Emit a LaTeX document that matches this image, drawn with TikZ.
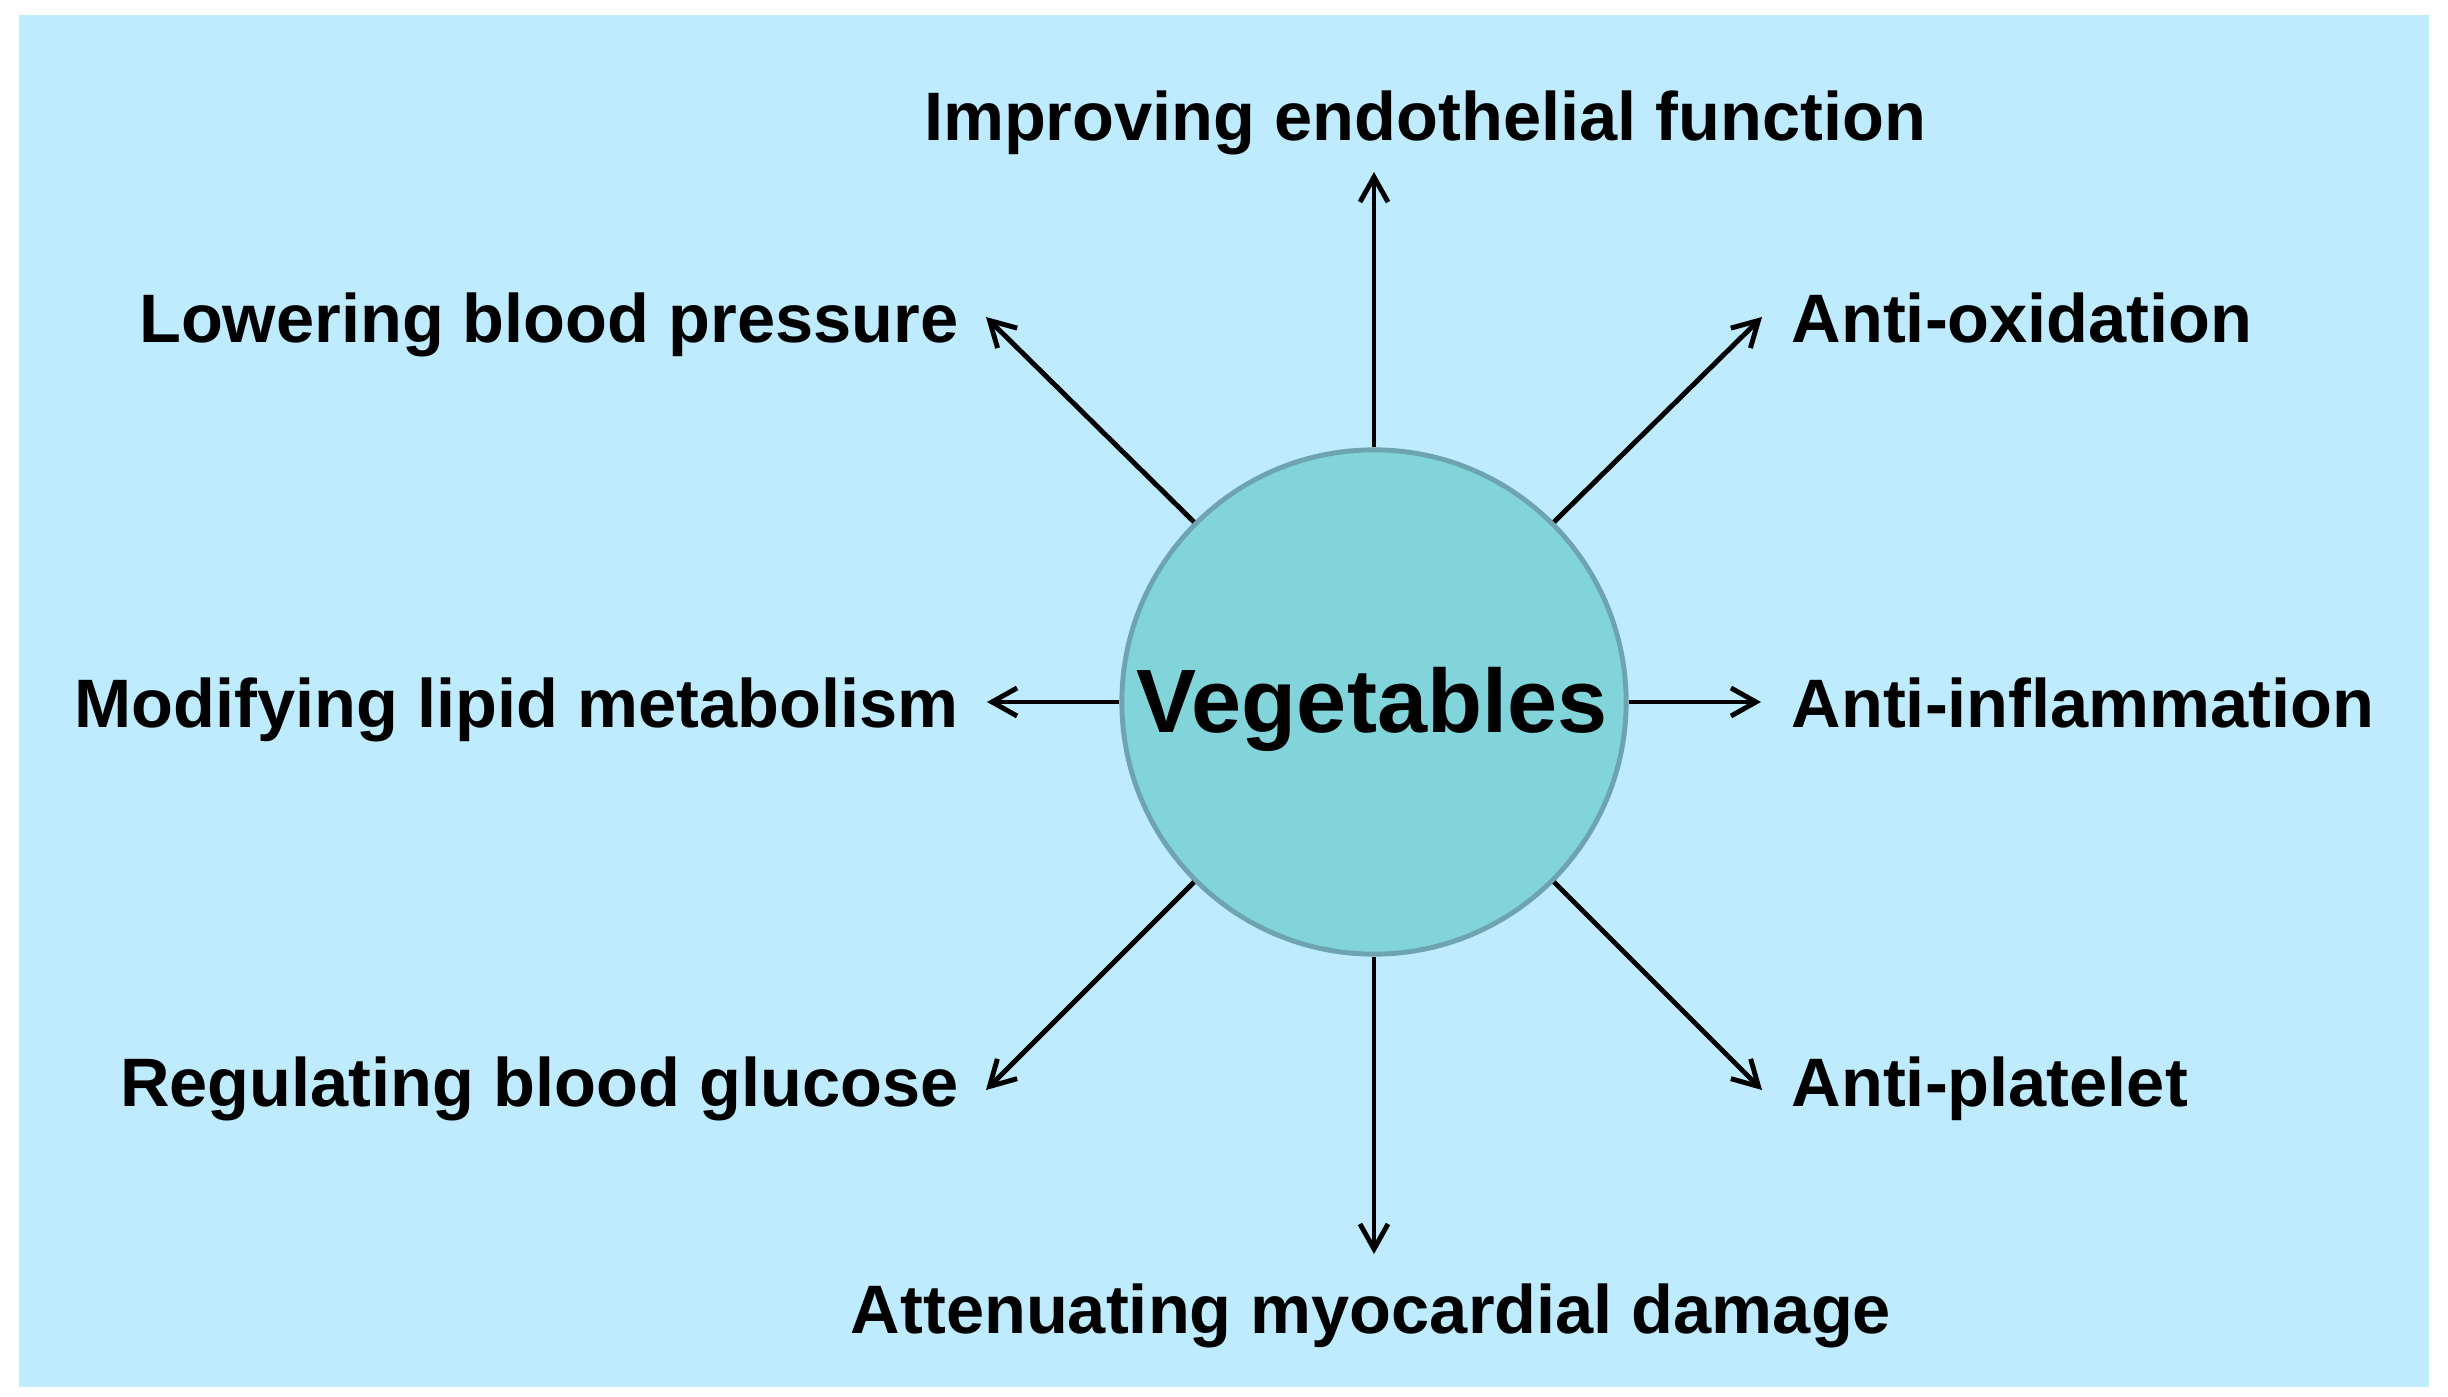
\documentclass[tikz,border=0pt]{standalone}
\usepackage{fontspec}
\setmainfont{Liberation Sans}
\usetikzlibrary{arrows.meta}
\definecolor{bgblue}{RGB}{191,235,254}
\definecolor{vegfill}{RGB}{128,212,218}
\definecolor{vegedge}{RGB}{110,164,176}
\begin{document}
\begin{tikzpicture}[x=0.01cm,y=-0.01cm,
  lab/.style={font=\bfseries\fontsize{19.5pt}{23pt}\selectfont, inner sep=0pt},
  arr/.style={line width=1.4pt, -{Straight Barb[length=2.5mm,width=2.8mm]}}]
\useasboundingbox (0,0) rectangle (2448,1397);
\fill[bgblue] (19,15) rectangle (2429,1387);
\node[circle, fill=vegfill, draw=vegedge, line width=1.4pt, minimum size=5.04cm, inner sep=0pt] (veg) at (1374,702) {};
\node[font=\bfseries\fontsize{25.6pt}{30pt}\selectfont, anchor=base, inner sep=0pt] (vegtxt) at (1372,732) {Vegetables};
\node[lab, anchor=base] (top) at (1425,141) {Improving endothelial function};
\node[lab, anchor=base east] (ul) at (959,342) {Lowering blood pressure};
\node[lab, anchor=base west] (ur) at (1791,342) {Anti-oxidation};
\node[lab, anchor=base east] (l) at (959,727) {Modifying lipid metabolism};
\node[lab, anchor=base west] (r) at (1791,727) {Anti-inflammation};
\node[lab, anchor=base east] (ll) at (959,1106) {Regulating blood glucose};
\node[lab, anchor=base west] (lr) at (1791,1106) {Anti-platelet};
\node[lab, anchor=base] (bot) at (1371,1333) {Attenuating myocardial damage};
\coordinate (tU) at (1374,172);
\coordinate (tD) at (1374,1254);
\coordinate (tL) at (987,702);
\coordinate (tR) at (1761,702);
\coordinate (tUL) at (986,317);
\coordinate (tUR) at (1762,317);
\coordinate (tLL) at (986,1090);
\coordinate (tLR) at (1762,1090);
\draw[arr] (veg.north) -- (tU);
\draw[arr] (veg.south) -- (tD);
\draw[arr] (veg.west) -- (tL);
\draw[arr] (veg.east) -- (tR);
\draw[arr] (veg.135) -- (tUL);
\draw[arr] (veg.45) -- (tUR);
\draw[arr] (veg.225) -- (tLL);
\draw[arr] (veg.-45) -- (tLR);
\end{tikzpicture}
\end{document}
